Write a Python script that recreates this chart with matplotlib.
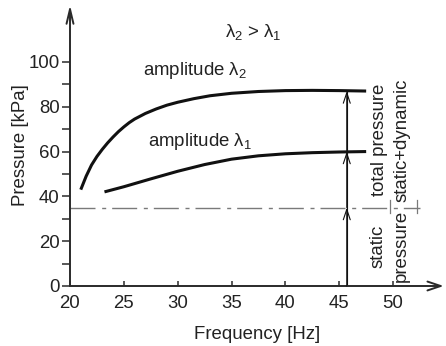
import matplotlib.pyplot as plt

plt.rcParams['font.family'] = ['Liberation Sans', 'DejaVu Sans']
plt.rcParams['mathtext.fontset'] = 'custom'
plt.rcParams['mathtext.rm'] = 'Liberation Sans'
plt.rcParams['mathtext.it'] = 'Liberation Sans'
plt.rcParams['lines.scale_dashes'] = False

# amplitude lambda_2 (upper curve)
freq_l2 = [21.0, 21.5, 22.0, 22.5, 23.0, 23.5, 24.0, 24.5, 25.0, 25.5, 26.0, 27.0, 28.0, 29.0, 30.0,
           31.5, 33.0, 35.0, 37.5, 40.0, 42.5, 45.0, 47.5]
press_l2 = [43.0, 49.0, 54.0, 57.8, 61.0, 63.9, 66.5, 68.9, 71.0, 72.9, 74.5, 77.0, 79.0, 80.7, 82.0,
            83.6, 84.9, 86.0, 86.8, 87.2, 87.3, 87.2, 87.0]

# amplitude lambda_1 (lower curve)
freq_l1 = [23.2, 25.0, 27.5, 30.0, 32.5, 35.0, 37.5, 40.0, 42.5, 45.0, 47.5]
press_l1 = [42.0, 44.3, 47.8, 51.2, 54.2, 56.6, 58.1, 59.0, 59.5, 59.8, 60.0]

static_pressure = 35
marker_freq = 45.7
xticks = [20, 25, 30, 35, 40, 45, 50]
yticks = [0, 20, 40, 60, 80, 100]
yminor = [10, 30, 50, 70, 90]

dark = '#2a2a2a'

fig = plt.figure(figsize=(4.46, 3.46), dpi=100)
ax = fig.add_axes([70 / 446, 60 / 346, 373.7 / 446, 281 / 346])
ax.set_xlim(20, 54.7)
ax.set_ylim(0, 125.4)

for s in ax.spines.values():
    s.set_visible(False)

# axes drawn as arrows
ax.annotate('', xy=(1, 0), xytext=(0, 0), xycoords='axes fraction',
            arrowprops=dict(arrowstyle='->,head_length=0.95,head_width=0.32', lw=1.4,
                            color=dark, shrinkA=0, shrinkB=0))
ax.annotate('', xy=(0, 1), xytext=(0, 0), xycoords='axes fraction',
            arrowprops=dict(arrowstyle='->,head_length=1.05,head_width=0.25', lw=1.4,
                            color=dark, shrinkA=0, shrinkB=0))

ax.set_xticks(xticks)
ax.set_yticks(yticks)
ax.set_yticks(yminor, minor=True)
ax.tick_params(axis='x', direction='in', length=3.5, width=1.1, color=dark,
               labelsize=13.4, labelcolor='#222222', pad=6.5)
ax.tick_params(axis='y', which='both', direction='out', length=6, width=1.1, color=dark,
               labelsize=13.4, labelcolor='#222222', pad=1.5)

ax.set_xlabel('Frequency [Hz]', fontsize=13.4, color='#222222', labelpad=10)
ax.set_ylabel('Pressure [kPa]', fontsize=13.4, color='#222222', labelpad=-0.5)

# static pressure level
ax.plot([20, 52.5], [static_pressure, static_pressure], color='#7a7a7a', lw=1.0,
        linestyle=(0, (18, 4.8, 2.9, 4.3)))
for xs in [49.7, 52.2]:
    ax.plot([xs, xs], [32.6, 38.4], color='#7a7a7a', lw=0.9)

# curves
ax.plot(freq_l2, press_l2, color='#111111', lw=2.2, solid_capstyle='butt')
ax.plot(freq_l1, press_l1, color='#111111', lw=2.2, solid_capstyle='butt')

# vertical arrows
ax.plot([marker_freq, marker_freq], [0, press_l2[-1]], color='#111111', lw=0.8)
levels = [0, static_pressure, press_l1[-1], press_l2[-1]]
for y0, y1 in zip(levels[:-1], levels[1:]):
    ax.annotate('', xy=(marker_freq, y1), xytext=(marker_freq, y0),
                arrowprops=dict(arrowstyle='->,head_length=0.75,head_width=0.25', lw=0.8,
                                color='#111111', shrinkA=0, shrinkB=0))

# labels
ax.text(37.0, 111, r'$\lambda_2$ > $\lambda_1$', fontsize=13.4, color='#222222',
        ha='center', va='baseline')
ax.text(26.8, 94.2, r'amplitude $\lambda_2$', fontsize=13.4, color='#222222',
        ha='left', va='baseline')
ax.text(27.2, 62.6, r'amplitude $\lambda_1$', fontsize=13.4, color='#222222',
        ha='left', va='baseline')
ax.text(49.8, 65.2, 'total pressure\nstatic+dynamic', fontsize=13.4, color='#222222',
        rotation=90, ha='center', va='center', multialignment='center', linespacing=1.45)
ax.text(49.7, 17.9, 'static\npressure', fontsize=13.4, color='#222222',
        rotation=90, ha='center', va='center', multialignment='center', linespacing=1.45)

fig.savefig('out.png', dpi=100)
